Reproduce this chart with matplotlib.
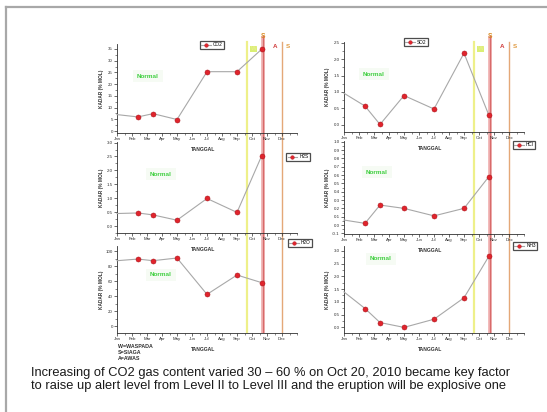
import matplotlib
matplotlib.use("Agg")
import matplotlib.pyplot as plt
from matplotlib.ticker import MultipleLocator, AutoMinorLocator
from matplotlib.lines import Line2D

plt.rcParams['font.family'] = ['Liberation Sans', 'DejaVu Sans']

# ---------------- data ----------------
months = ["Jan", "Feb", "Mar", "Apr", "May", "Jun", "Jul", "Aug", "Sep", "Oct", "Nov", "Dec"]
dates = [1.0, 2.4, 3.4, 5.0, 7.0, 9.0, 10.65]   # sampling dates (month number, Jan=1)

co2 = [7.0, 6.0, 7.4, 4.9, 25.3, 25.3, 34.9]
so2 = [0.96, 0.57, 0.01, 0.89, 0.48, 2.18, 0.30]
h2s = [0.45, 0.47, 0.40, 0.21, 0.99, 0.49, 2.53]
hcl = [0.06, 0.02, 0.24, 0.20, 0.11, 0.20, 0.58]
h2o = [87.1, 89.3, 87.1, 90.7, 42.2, 68.0, 57.8]
nh3 = [1.39, 0.74, 0.19, 0.0, 0.32, 1.16, 2.78]

series_names = ["CO2", "SO2", "H2S", "HCl", "H2O", "NH3"]

# alert level changes (month number)
waspada_x = 9.65
siaga_x = 10.68
awas_x = 10.82
siaga2_x = 12.03

caption1 = "Increasing of CO2 gas content varied 30 \u2013 60 % on Oct 20, 2010 became key factor"
caption2 = "to raise up alert level from Level II to Level III and the eruption will be explosive one"

# ---------------- figure ----------------
W, H = 547, 412
fig = plt.figure(figsize=(W / 100, H / 100), dpi=100)
fig.patch.set_facecolor("white")


def rect(x0, top, x1, bottom):
    return [x0 / W, 1 - bottom / H, (x1 - x0) / W, (bottom - top) / H]


# slide frame
frame = fig.add_axes([0, 0, 1, 1], zorder=-5)
frame.set_xlim(0, W)
frame.set_ylim(H, 0)
frame.axis("off")
frame.plot([6, W], [7, 7], color="#a8a8a8", lw=1.6)
frame.plot([6, 6], [7, H], color="#a8a8a8", lw=1.6)

# overlay for alert lines (one per column)
for (cx0, cx1) in [(117, 297), (344, 524)]:
    ov = fig.add_axes(rect(cx0, 30, cx1, 333), zorder=0)
    ov.set_xlim(1, 13)
    ov.set_ylim(333, 30)
    ov.axis("off")
    ov.axvline(waspada_x, ymin=0, ymax=0.96, color="#eef08a", lw=1.6)
    ov.axvspan(siaga_x - 0.07, awas_x + 0.07, ymin=0, ymax=0.98, color="#efaaaa", alpha=0.8, lw=0)
    ov.axvline((siaga_x + awas_x) / 2, ymin=0, ymax=0.98, color="#d86a6a", lw=1.0)
    ov.axvline(siaga2_x, ymin=0, ymax=0.96, color="#e4a878", lw=1.0)
    ov.text(waspada_x + 0.45, 49, "W", color="#e6ee8c", fontsize=4.5, fontweight="bold",
            ha="center", va="center",
            bbox=dict(boxstyle="square,pad=0.15", fc="#d6ee66", ec="none", alpha=0.9))
    ov.text((siaga_x + awas_x) / 2, 37, "S", color="#d88a20", fontsize=4.8, fontweight="bold",
            ha="center", va="center", zorder=6)
    ov.text(awas_x + 0.7, 47, "A", color="#d03c3c", fontsize=4.5, fontweight="bold",
            ha="center", va="center")
    ov.text(siaga2_x + 0.35, 46.5, "S", color="#e09a40", fontsize=4.5, fontweight="bold",
            ha="center", va="center")

panels = [
    # name, values, rect(px), ylim, major step, tick fmt, legend center(px), normal center(px)
    ("CO2", co2, (117, 44, 297, 133), (-0.85, 37.1), 5, "{:.0f}", (212, 45), (148, 76)),
    ("H2S", h2s, (117, 142, 297, 233), (-0.25, 3.02), 0.5, "{:.1f}", (298, 157), (161, 174)),
    ("H2O", h2o, (117, 246, 297, 333), (-9.3, 106.7), 20, "{:.0f}", (300, 243), (161, 275)),
    ("SO2", so2, (344, 42, 524, 132), (-0.22, 2.52), 0.5, "{:.1f}", (416, 42), (374, 74)),
    ("HCl", hcl, (344, 141, 524, 234), (-0.108, 1.01), 0.1, "{:.1f}", (524, 145), (377, 172)),
    ("NH3", nh3, (344, 246, 524, 333), (-0.22, 3.19), 0.5, "{:.1f}", (525, 246), (381, 259)),
]

for name, vals, (x0, top, x1, bot), ylim, step, fmt, legc, normc in panels:
    ax = fig.add_axes(rect(x0, top, x1, bot), zorder=2)
    ax.set_facecolor("none")
    ax.plot(dates, vals, color="#a8a8a8", lw=0.8, marker="o", markersize=3.6,
            markerfacecolor="#e0242c", markeredgecolor="#b01820", markeredgewidth=0.4,
            markevery=list(range(1, len(dates))), clip_on=False, zorder=3)
    ax.set_xlim(1, 13)
    ax.set_ylim(*ylim)
    ax.set_xticks(range(1, 13))
    ax.set_xticklabels(months)
    ax.xaxis.set_minor_locator(MultipleLocator(0.5))
    ax.yaxis.set_major_locator(MultipleLocator(step))
    ax.yaxis.set_minor_locator(AutoMinorLocator(2))
    ticks = [t for t in ax.get_yticks() if ylim[0] - 1e-9 <= t <= ylim[1] + 1e-9]
    ax.set_yticks(ticks)
    ax.set_yticklabels([fmt.format(t + 0.0) for t in ticks])
    for s in ["top", "right"]:
        ax.spines[s].set_visible(False)
    for s in ["left", "bottom"]:
        ax.spines[s].set_linewidth(0.6)
        ax.spines[s].set_color("#303030")
    ax.tick_params(axis="both", which="major", direction="out", length=2, width=0.5,
                   labelsize=3.2, pad=1, colors="#303030")
    ax.tick_params(axis="both", which="minor", direction="out", length=1.2, width=0.4,
                   colors="#303030")
    ax.set_xlabel("TANGGAL", fontsize=3.6, fontweight="bold", color="#303030")
    ax.xaxis.set_label_coords(0.48, -14 / (bot - top))
    ax.set_ylabel("KADAR (% MOL)", fontsize=3.4, fontweight="bold", color="#303030")
    ax.yaxis.set_label_coords(-13.5 / (x1 - x0), 0.5)

    # "Normal" label
    nx = 1 + (normc[0] - x0) / (x1 - x0) * 12
    ny = (bot - normc[1]) / (bot - top)
    ax.text(nx, ny, "Normal", transform=ax.get_xaxis_transform(), color="#3fcf3f",
            fontsize=4.6, fontweight="bold", ha="center", va="center",
            bbox=dict(boxstyle="square,pad=0.6", fc="#f6fbf4", ec="none"))

    # legend
    h = Line2D([], [], color="#a8a8a8", lw=0.8, marker="o", markersize=2.6,
               markerfacecolor="#e0242c", markeredgecolor="#b01820", markeredgewidth=0.3)
    leg = ax.legend([h], [name], loc="center",
                    bbox_to_anchor=(legc[0] / W, 1 - legc[1] / H),
                    bbox_transform=fig.transFigure, fontsize=3.4, frameon=True,
                    fancybox=False, edgecolor="#202020", handlelength=2.0,
                    handletextpad=0.5, borderpad=0.35, borderaxespad=0)
    leg.get_frame().set_linewidth(0.9)
    leg.set_zorder(5)

# WASPADA legend text
for i, t in enumerate(["W=WASPADA", "S=SIAGA", "A=AWAS"]):
    fig.text(118 / W, 1 - (347 + 6 * i) / H, t, fontsize=3.8, fontweight="bold",
             color="#303030", ha="left", va="center")

# caption
fig.text(31 / W, 1 - 373 / H, caption1, fontsize=9.25, color="#1a1a1a", ha="left", va="center")
fig.text(31 / W, 1 - 386.5 / H, caption2, fontsize=9.25, color="#1a1a1a", ha="left", va="center")

fig.savefig("out.png", dpi=100, facecolor="white")
